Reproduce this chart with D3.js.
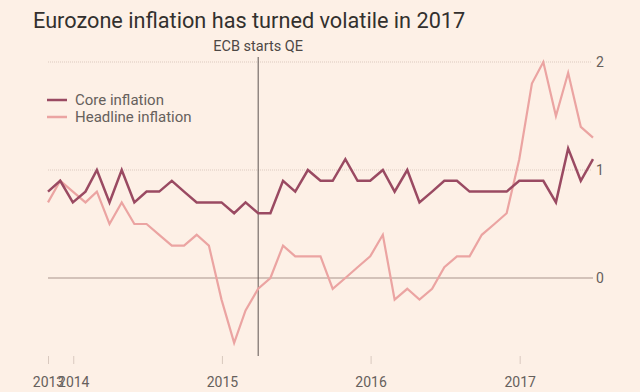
<!DOCTYPE html>
<html>
<head>
<meta charset="utf-8">
<script src="https://cdn.jsdelivr.net/npm/d3@7"></script>
<style>
  html, body { margin: 0; padding: 0; background: #fdf0e6; }
  svg { display: block; font-family: Roboto, "Open Sans", sans-serif; }
</style>
</head>
<body>
<svg id="chart" width="640" height="392"></svg>
<script>
// monthly readings, Oct 2013 .. Jun 2017 (%)
const firstMonth = new Date(2013, 9, 1)
const coreInflation = [
  0.8, 0.9, 0.7,
  0.8, 1.0, 0.7, 1.0, 0.7, 0.8, 0.8, 0.9, 0.8, 0.7, 0.7, 0.7,
  0.6, 0.7, 0.6, 0.6, 0.9, 0.8, 1.0, 0.9, 0.9, 1.1, 0.9, 0.9,
  1.0, 0.8, 1.0, 0.7, 0.8, 0.9, 0.9, 0.8, 0.8, 0.8, 0.8, 0.9,
  0.9, 0.9, 0.7, 1.2, 0.9, 1.1
]
const headlineInflation = [
  0.7, 0.9, 0.8,
  0.7, 0.8, 0.5, 0.7, 0.5, 0.5, 0.4, 0.3, 0.3, 0.4, 0.3, -0.2,
  -0.6, -0.3, -0.1, 0.0, 0.3, 0.2, 0.2, 0.2, -0.1, 0.0, 0.1, 0.2,
  0.4, -0.2, -0.1, -0.2, -0.1, 0.1, 0.2, 0.2, 0.4, 0.5, 0.6, 1.1,
  1.8, 2.0, 1.5, 1.9, 1.4, 1.3
]
const yTicks = [0, 1, 2]
const xTickYears = [2014, 2015, 2016, 2017]
const qeMonth = new Date(2015, 2, 1)

const title = 'Eurozone inflation has turned volatile in 2017'
const seriesNames = ['Core inflation', 'Headline inflation']
const colors = ['#9a4a62', '#eba4a2']

// each reading is plotted at the end of its month
const monthEnd = d => new Date(d.getFullYear(), d.getMonth() + 1, 0)
const dates = coreInflation.map((v, i) => monthEnd(d3.timeMonth.offset(firstMonth, i)))

let svg = d3.select('#chart')

let x = d3.scaleTime()
  .domain([dates[0], dates[dates.length - 1]])
  .range([48, 593])
let y = d3.scaleLinear()
  .domain([0, 2])
  .range([278, 62])

// TITLE
svg.append('text')
  .attr('x', 33)
  .attr('y', 28)
  .attr('font-size', 21.7)
  .attr('fill', '#33302e')
  .text(title)

// GRID
yTicks.forEach(t => {
  svg.append('line')
    .attr('x1', 48).attr('x2', t === 0 ? 593 : 591)
    .attr('y1', y(t)).attr('y2', y(t))
    .attr('stroke', t === 0 ? '#c4b3aa' : '#dccabf')
    .attr('stroke-width', t === 0 ? 1.5 : 1)
    .attr('stroke-dasharray', t === 0 ? null : '1,1')
  svg.append('text')
    .attr('x', 600)
    .attr('y', y(t) + 5)
    .attr('text-anchor', 'middle')
    .attr('font-size', 14)
    .attr('fill', '#66605c')
    .text(t)
})

// X AXIS
let xTicks = [dates[0]].concat(xTickYears.map(yr => new Date(yr, 0, 1)))
let xAxis = svg.append('g')
  .attr('transform', 'translate(0, 356)')
  .call(d3.axisBottom(x).tickValues(xTicks).tickFormat(d3.timeFormat('%Y')).tickSize(8).tickPadding(13))
xAxis.select('.domain').remove()
xAxis.selectAll('line').attr('stroke', '#d9c9bf')
xAxis.selectAll('text')
  .attr('font-size', 14)
  .attr('font-family', 'Roboto, "Open Sans", sans-serif')
  .attr('fill', '#66605c')

// QE MARKER
let qx = x(monthEnd(qeMonth))
svg.append('line')
  .attr('x1', qx).attr('x2', qx)
  .attr('y1', 57).attr('y2', 356)
  .attr('stroke', '#5e5552')
  .attr('stroke-width', 1)
svg.append('text')
  .attr('x', qx)
  .attr('y', 51)
  .attr('text-anchor', 'middle')
  .attr('font-size', 14.5)
  .attr('fill', '#4d4845')
  .text('ECB starts QE')

// LINES
let line = d3.line()
  .x((d, i) => x(dates[i]))
  .y(d => y(d))

svg.append('path')
  .datum(headlineInflation)
  .attr('d', line)
  .attr('fill', 'none')
  .attr('stroke', colors[1])
  .attr('stroke-width', 2.2)

svg.append('path')
  .datum(coreInflation)
  .attr('d', line)
  .attr('fill', 'none')
  .attr('stroke', colors[0])
  .attr('stroke-width', 2.5)

// LEGEND
seriesNames.forEach((name, i) => {
  let ly = 100 + i * 17
  svg.append('line')
    .attr('x1', 47).attr('x2', 67)
    .attr('y1', ly).attr('y2', ly)
    .attr('stroke', colors[i])
    .attr('stroke-width', 2.5)
  svg.append('text')
    .attr('x', 75)
    .attr('y', ly + 5)
    .attr('font-size', 15)
    .attr('fill', '#66605c')
    .text(name)
})
</script>
</body>
</html>
